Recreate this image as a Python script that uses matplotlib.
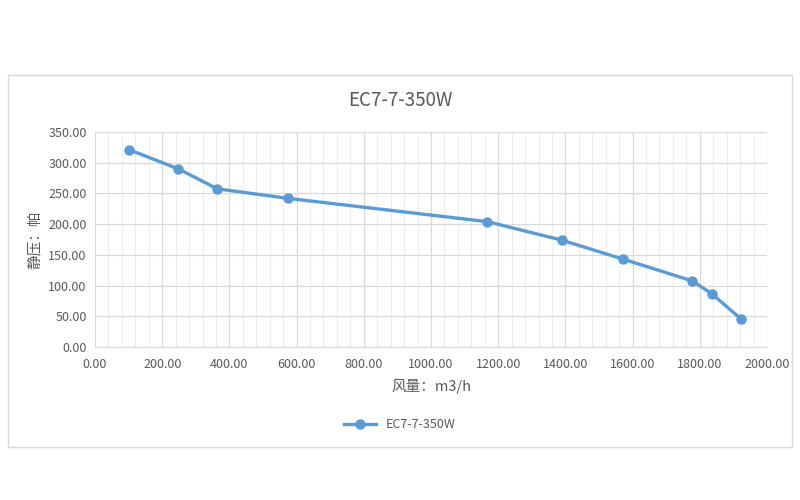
import matplotlib
matplotlib.use('Agg')
import matplotlib.pyplot as plt
from matplotlib.patches import Rectangle
from matplotlib.ticker import MultipleLocator, FormatStrFormatter

plt.rcParams['font.family'] = ['Noto Sans CJK SC', 'DejaVu Sans']

# air flow (m3/h) vs static pressure (Pa)
series_name = 'EC7-7-350W'
flow = [102, 248, 364, 574, 1168, 1389, 1572, 1778, 1835, 1922]
pressure = [321, 290, 257.5, 242, 204, 174, 143, 107.5, 87, 46]

blue = '#5B9BD5'
grey_text = '#595959'

fig = plt.figure(figsize=(8, 5), dpi=100)
# outer chart frame like Excel
fig.patches.append(Rectangle((8 / 800, 1 - 447 / 500), 784 / 800, 372 / 500,
                             transform=fig.transFigure, fill=False,
                             edgecolor='#D9D9D9', linewidth=1))

ax = fig.add_axes([95 / 800, 1 - 347 / 500, 672 / 800, 215 / 500])
ax.plot(flow, pressure, color=blue, linewidth=2.4, marker='o',
        markersize=6.5, label=series_name, zorder=3)

ax.set_xlim(0, 2000)
ax.set_ylim(0, 350)
ax.xaxis.set_major_locator(MultipleLocator(200))
ax.xaxis.set_minor_locator(MultipleLocator(40))
ax.yaxis.set_major_locator(MultipleLocator(50))
ax.xaxis.set_major_formatter(FormatStrFormatter('%.2f'))
ax.yaxis.set_major_formatter(FormatStrFormatter('%.2f'))

ax.grid(which='major', color='#D9D9D9', linewidth=0.9)
ax.grid(which='minor', axis='x', color='#EDEDED', linewidth=0.8)
ax.set_axisbelow(True)
for side in ['top', 'right', 'left']:
    ax.spines[side].set_visible(False)
ax.spines['bottom'].set_color('#D9D9D9')
ax.tick_params(which='both', length=0, colors=grey_text, labelsize=9)
ax.tick_params(axis='x', pad=8)
ax.tick_params(axis='y', pad=6)

# title is centred on the whole chart frame, not the plot area
fig.text(0.5, 1 - 100 / 500, series_name, fontsize=13.5, color=grey_text,
         ha='center', va='center')
ax.set_xlabel('风量：m3/h', fontsize=10.5, color=grey_text, labelpad=6)
ax.set_ylabel('静压：帕', fontsize=10.5, color=grey_text, labelpad=5)

fig.legend(loc='center', bbox_to_anchor=(0.5, 1 - 425 / 500), frameon=False,
           fontsize=9, labelcolor=grey_text, handlelength=2.5)

fig.savefig('out.png', dpi=100)
